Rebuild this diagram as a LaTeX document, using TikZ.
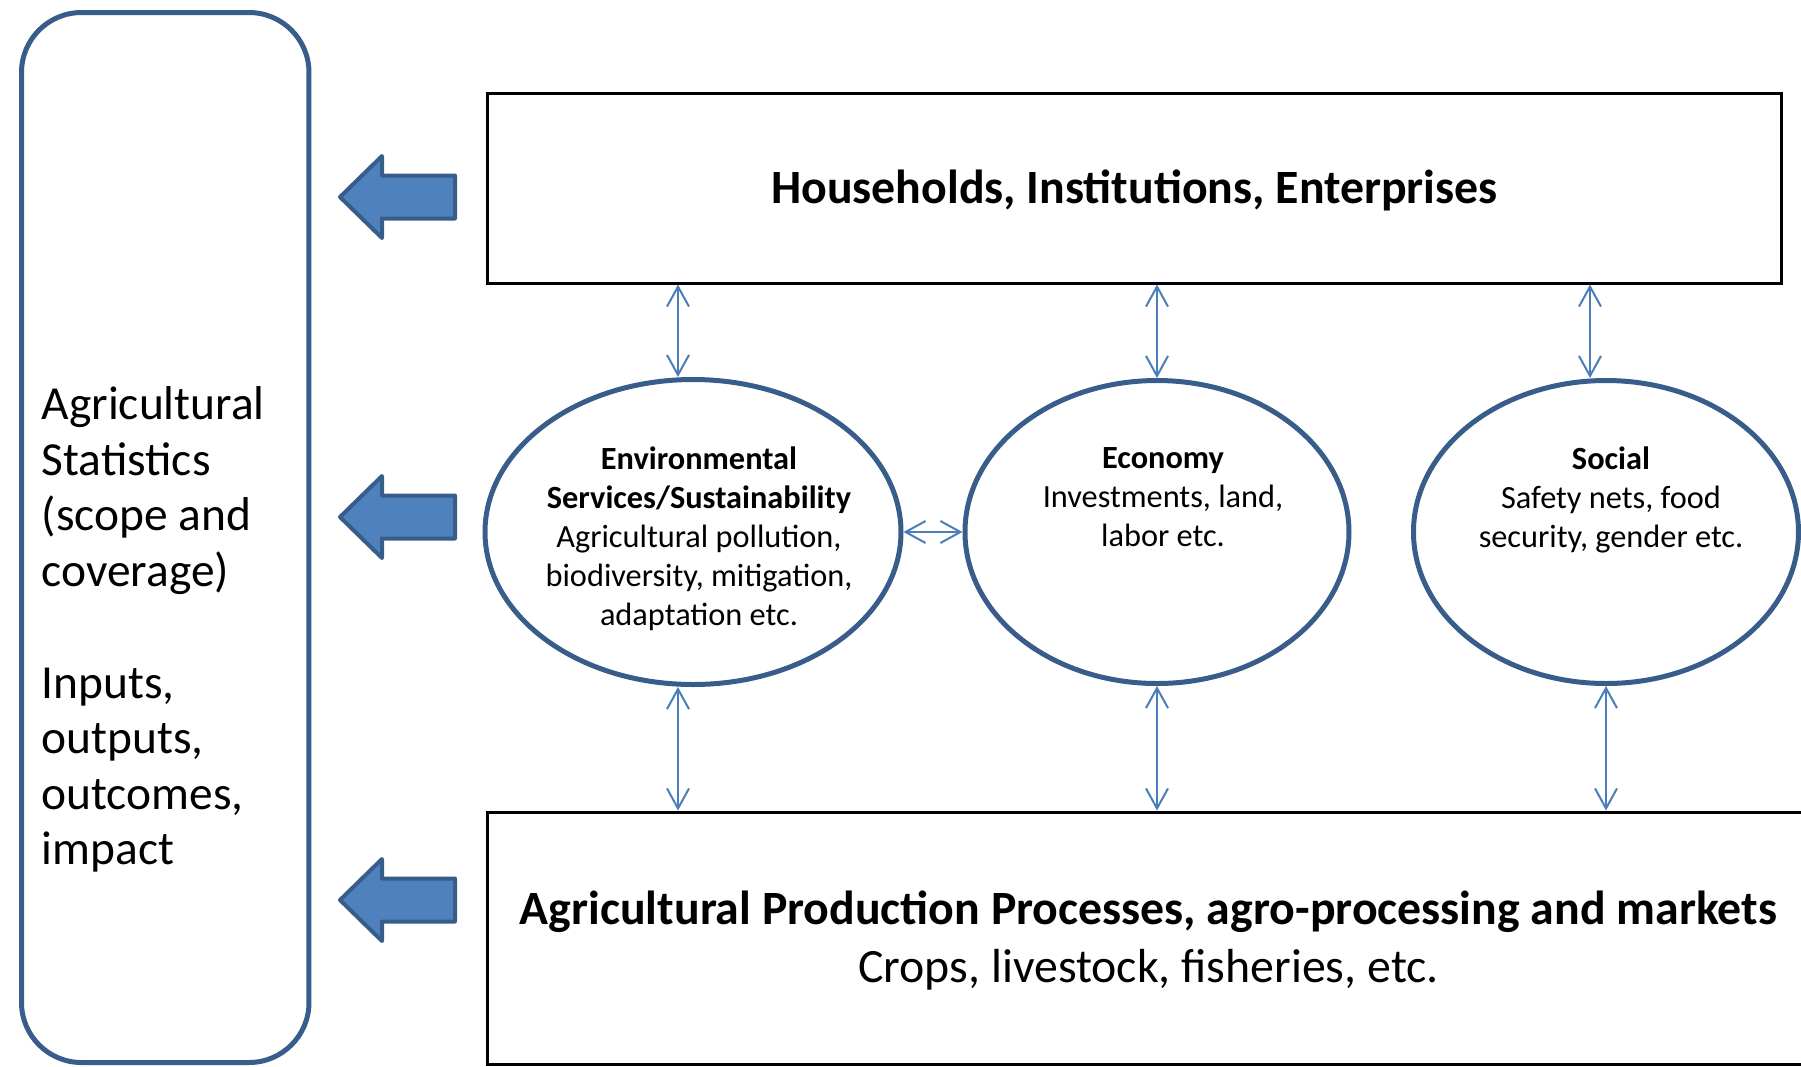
\documentclass[tikz,border=0pt]{standalone}
\usepackage{fontspec}
\setmainfont{Carlito}
\usetikzlibrary{shapes.geometric,arrows.meta}
\definecolor{edgeblue}{RGB}{56,93,138}
\definecolor{fillblue}{RGB}{79,129,189}
\definecolor{linkblue}{RGB}{74,126,187}

\begin{document}
\begin{tikzpicture}[x=0.1mm, y=-0.1mm,
  box/.style={draw, line width=0.3mm, inner sep=0},
  oval/.style={ellipse, draw=edgeblue, line width=0.5mm, inner sep=0},
  small/.style={font=\fontsize{9.2}{11.1}\selectfont, align=center, inner sep=0, anchor=north},
  big/.style={font=\fontsize{13.6}{16.7}\selectfont, align=center},
  link/.style={linkblue, line width=0.2mm, {Straight Barb[length=2mm,width=2.2mm]}-{Straight Barb[length=2mm,width=2.2mm]}},
  fat/.style={draw=edgeblue, fill=fillblue, line width=0.4mm, line join=round}]
\path[use as bounding box, clip] (0,0) rectangle (1801,1066);

% left panel
\node[draw=edgeblue, line width=0.5mm, rounded corners=6mm, minimum width=28.75mm, minimum height=105mm] (stats) at (165.25,537.5) {};
\node[font=\fontsize{13.5}{15.8}\selectfont, align=left, inner sep=0, anchor=north west] (statstxt) at (41,386)
  {Agricultural\\Statistics\\(scope and\\coverage)\\[16pt]Inputs,\\outputs,\\outcomes,\\impact};

% boxes
\node[box, big, text height=3mm, text depth=0mm, minimum width=129.5mm, minimum height=19mm] (hh) at (1134.5,188) {\textbf{Households, Institutions, Enterprises}};
\node[box, big, minimum width=132.3mm, minimum height=25.2mm] (agri) at (1148.5,938)
  {};
\node[big, inner sep=0] (agritxt) at ([yshift=-0.25mm]agri.center)
  {\textbf{Agricultural Production Processes, agro-processing and markets}\\Crops, livestock, fisheries, etc.};

% ellipses
\node[oval, minimum width=41.6mm, minimum height=30.5mm] (env) at (693,532) {};
\node[oval, minimum width=38.4mm, minimum height=30.3mm] (eco) at (1157,532) {};
\node[oval, minimum width=38.5mm, minimum height=30.3mm] (soc) at (1606,532) {};
\node[small] (envtxt) at ([xshift=0.6mm,yshift=-6.9mm]env.north)
  {\textbf{Environmental}\\\textbf{Services/Sustainability}\\Agricultural pollution,\\biodiversity, mitigation,\\adaptation etc.};
\node[small] (ecotxt) at ([xshift=0.6mm,yshift=-6.9mm]eco.north) {\textbf{Economy}\\Investments, land,\\labor etc.};
\node[small] (soctxt) at ([xshift=0.5mm,yshift=-6.8mm]soc.north) {\textbf{Social}\\Safety nets, food\\security, gender etc.};

% links
\draw[link] ([xshift=-1.5mm]env.north |- hh.south) -- ([xshift=-1.5mm]env.north);
\draw[link] (eco.north |- hh.south) -- (eco.north);
\draw[link] ([xshift=-1.6mm]soc.north |- hh.south) -- ([xshift=-1.6mm]soc.north);
\draw[link] (env.east) -- (eco.west);
\draw[link] ([xshift=-1.5mm]env.south) -- ([xshift=-1.5mm]env.south |- agri.north);
\draw[link] (eco.south) -- (eco.south |- agri.north);
\draw[link] (soc.south) -- (soc.south |- agri.north);

% block arrows
\foreach \y in {197,517,900}
  \draw[fat] (340,\y) -- ++(42,-41) -- ++(0,19.5) -- ++(73,0) -- ++(0,43) -- ++(-73,0) -- ++(0,19.5) -- cycle;
\end{tikzpicture}
\end{document}
